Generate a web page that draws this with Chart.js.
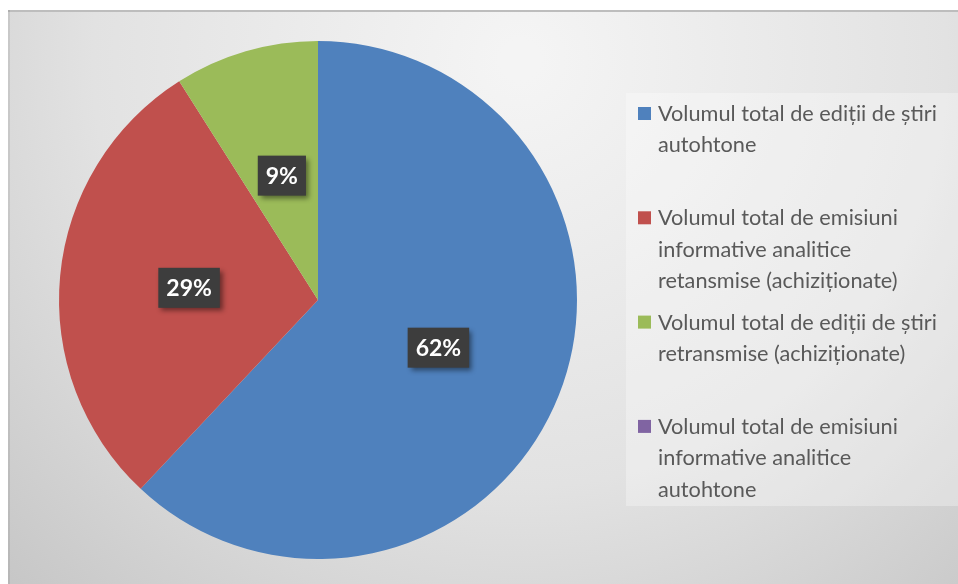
<!DOCTYPE html>
<html>
<head>
<meta charset="utf-8">
<script src="https://cdn.jsdelivr.net/npm/chart.js@4.4.1/dist/chart.umd.min.js"></script>
<style>
    html, body { margin: 0; padding: 0; background: #fff; }
    #wrap { position: relative; width: 958px; height: 584px; }
</style>
</head>
<body>
<div id="wrap"><canvas id="pie" width="958" height="584"></canvas></div>
<script>
// categories (each one already split into the lines shown in the legend)
const categories = [
    ['Volumul total de ediții de știri', 'autohtone'],
    ['Volumul total de emisiuni', 'informative analitice', 'retansmise (achiziționate)'],
    ['Volumul total de ediții de știri', 'retransmise (achiziționate)'],
    ['Volumul total de emisiuni', 'informative analitice', 'autohtone']
];
const values = [62, 29, 9, 0];
const sliceColors = ['#4f81bd', '#c0504d', '#9bbb59', '#8064a2'];

const FONT = 'Lato, "Open Sans", "Liberation Sans", sans-serif';

// фон и рамка
const backgroundPlugin = {
    id: 'bg',
    beforeDraw(chart) {
        const ctx = chart.ctx;
        ctx.save();
        const g = ctx.createRadialGradient(520, 60, 20, 520, 60, 760);
        g.addColorStop(0, '#f4f4f4');
        g.addColorStop(0.55, '#e2e2e2');
        g.addColorStop(1, '#c4c4c4');
        ctx.fillStyle = g;
        ctx.fillRect(8, 10, 950, 574);
        ctx.fillStyle = '#bdbdbd';
        ctx.fillRect(8, 10, 950, 2);
        ctx.fillStyle = 'rgba(0,0,0,0.08)';
        ctx.fillRect(8, 10, 2, 574);
        ctx.restore();
    }
};

// подписи процентов
const percentPlugin = {
    id: 'percent',
    afterDatasetsDraw(chart) {
        const ctx = chart.ctx;
        const data = chart.data.datasets[0].data;
        const total = data.reduce((a, b) => a + b, 0);
        ctx.save();
        ctx.font = 'bold 23px ' + FONT;
        ctx.textAlign = 'center';
        ctx.textBaseline = 'middle';
        chart.getDatasetMeta(0).data.forEach((arc, i) => {
            if (!data[i]) return;
            const txt = Math.round(data[i] / total * 100) + '%';
            const p = arc.getCenterPoint();
            const w = ctx.measureText(txt).width + 16;
            const h = 40;
            ctx.shadowColor = 'rgba(0,0,0,0.45)';
            ctx.shadowBlur = 5;
            ctx.shadowOffsetX = 3;
            ctx.shadowOffsetY = 3;
            ctx.fillStyle = '#3d3d3d';
            ctx.fillRect(p.x - w / 2, p.y - h / 2, w, h);
            ctx.shadowColor = 'transparent';
            ctx.fillStyle = '#ffffff';
            ctx.fillText(txt, p.x, p.y + 1);
        });
        ctx.restore();
    }
};

// легенда справа
const legendPlugin = {
    id: 'sideLegend',
    afterDraw(chart) {
        const ctx = chart.ctx;
        const labels = chart.data.labels;
        const colors = chart.data.datasets[0].backgroundColor;
        ctx.save();
        ctx.fillStyle = 'rgba(255,255,255,0.3)';
        ctx.fillRect(626, 93, 332, 413);
        ctx.font = '21.7px ' + FONT;
        ctx.textBaseline = 'middle';
        labels.forEach((lines, i) => {
            const y0 = 114 + i * 104.3;
            ctx.fillStyle = colors[i];
            ctx.fillRect(638, y0 - 7, 13, 13);
            ctx.fillStyle = '#595959';
            lines.forEach((line, j) => {
                ctx.fillText(line, 658, y0 + j * 31.5);
            });
        });
        ctx.restore();
    }
};

new Chart(document.getElementById('pie'), {
    type: 'pie',
    data: {
        labels: categories,
        datasets: [{
            data: values,
            backgroundColor: sliceColors,
            borderWidth: 0
        }]
    },
    options: {
        responsive: false,
        animation: false,
        layout: { padding: { left: 59, right: 381, top: 41, bottom: 25 } },
        plugins: {
            legend: { display: false },
            tooltip: { enabled: false }
        }
    },
    plugins: [backgroundPlugin, percentPlugin, legendPlugin]
});
</script>
</body>
</html>
